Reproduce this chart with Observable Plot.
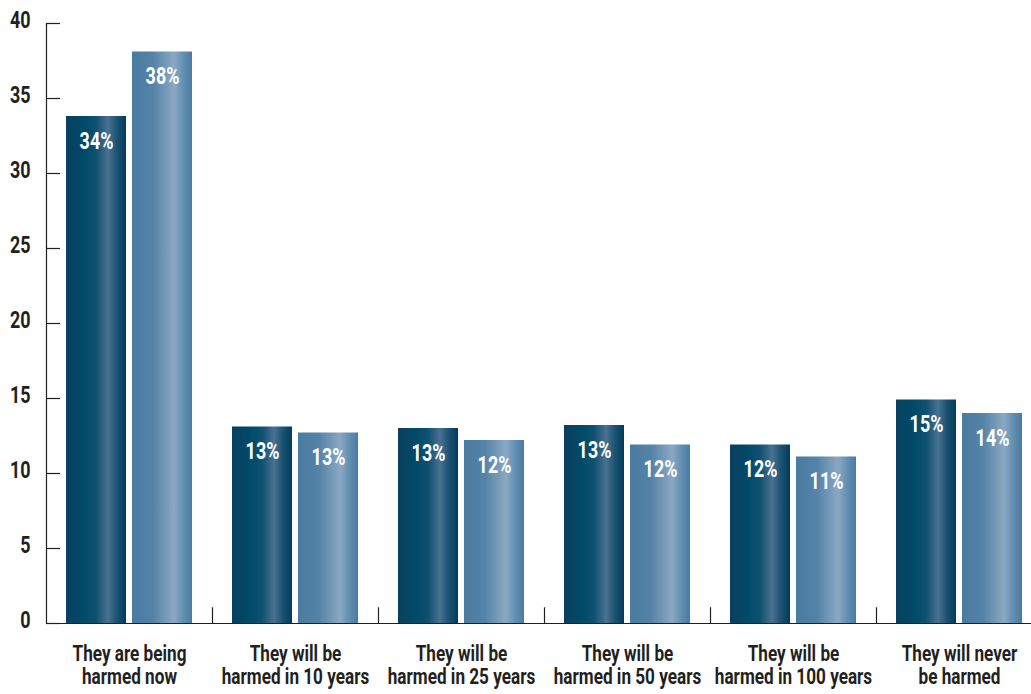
<!DOCTYPE html>
<html>
<head>
<meta charset="utf-8">
<script src="https://cdn.jsdelivr.net/npm/d3@7"></script>
<script src="https://cdn.jsdelivr.net/npm/@observablehq/plot@0.6"></script>
<style>
  html, body { margin: 0; padding: 0; background: #fff; }
  #chart svg { display: block; }
</style>
</head>
<body>
<div id="chart"></div>
<script>
const categories = [
  "They are being\nharmed now",
  "They will be\nharmed in 10 years",
  "They will be\nharmed in 25 years",
  "They will be\nharmed in 50 years",
  "They will be\nharmed in 100 years",
  "They will never\nbe harmed"
];
const darkValues = [33.8, 13.1, 13.0, 13.2, 11.9, 14.9];
const lightValues = [38.1, 12.7, 12.2, 11.9, 11.1, 14.0];
const darkLabels = ["34%", "13%", "13%", "13%", "12%", "15%"];
const lightLabels = ["38%", "13%", "12%", "12%", "11%", "14%"];
const yTicks = [0, 5, 10, 15, 20, 25, 30, 35, 40];

const rows = categories.map((c, i) => ({
  cat: c, dark: darkValues[i], light: lightValues[i],
  darkLabel: darkLabels[i], lightLabel: lightLabels[i]
}));

const FONT = 'Roboto, "Liberation Sans", sans-serif';
const INK = "#231f20";

const chart = Plot.plot({
  width: 1031,
  height: 694,
  marginLeft: 46,
  marginRight: 0,
  marginTop: 23,
  marginBottom: 71,
  style: { fontFamily: FONT, color: INK, background: "#fff" },
  x: { type: "band", domain: categories, range: [46, 1042], padding: 0 },
  y: { domain: [0, 40] },
  marks: [
    Plot.barY(rows, { x: "cat", y: "dark", fill: "url(#gDark)", insetLeft: 20, insetRight: 86 }),
    Plot.barY(rows, { x: "cat", y: "light", fill: "url(#gLight)", insetLeft: 86, insetRight: 20 }),
    Plot.text(rows, { x: "cat", y: "dark", text: "darkLabel", dx: -33, dy: 25, fill: "white", fontSize: 23, fontWeight: "bold" }),
    Plot.text(rows, { x: "cat", y: "light", text: "lightLabel", dx: 33, dy: 25, fill: "white", fontSize: 23, fontWeight: "bold" }),
    Plot.frame({ anchor: "left", stroke: INK, strokeWidth: 1.2 }),
    Plot.ruleY([0], { stroke: INK, strokeWidth: 1.2 }),
    Plot.ruleX(categories.slice(1), { x: d => d, dx: -83, y1: 0, y2: 1.05, stroke: INK, strokeWidth: 1.2 }),
    Plot.axisY(yTicks, { anchor: "left", tickSize: 14, dx: 14, tickFormat: () => "", stroke: INK, strokeWidth: 1.2 }),
    Plot.axisY(yTicks, { anchor: "left", tickSize: 0, tickPadding: 16, dy: -3, fontSize: 23, fontWeight: "bold", fill: INK }),
    Plot.axisX({ anchor: "bottom", tickSize: 0, tickPadding: 21, fontSize: 22, fontWeight: "bold", lineHeight: 1.05, fill: INK, label: null })
  ]
});

const svg = d3.select(chart);
const defs = svg.insert("defs", ":first-child");
const gd = defs.append("linearGradient").attr("id", "gDark").attr("x1", 0).attr("x2", 1).attr("y1", 0).attr("y2", 0);
[[0, "#0a3f5e"], [0.3, "#004a69"], [0.5, "#0f5070"], [0.7, "#4a7191"], [0.85, "#1a5272"], [1, "#003d5a"]]
  .forEach(([o, c]) => gd.append("stop").attr("offset", o).attr("stop-color", c));
const gl = defs.append("linearGradient").attr("id", "gLight").attr("x1", 0).attr("x2", 1).attr("y1", 0).attr("y2", 0);
[[0, "#4a7ba0"], [0.35, "#5483a8"], [0.7, "#8ba8c2"], [0.85, "#6390b2"], [1, "#4a7ba0"]]
  .forEach(([o, c]) => gl.append("stop").attr("offset", o).attr("stop-color", c));

document.getElementById("chart").appendChild(chart);

// Emulate the condensed typeface: squeeze every text horizontally about its anchor.
const SQUEEZE = 0.78;
svg.selectAll("text").each(function () {
  const t = this.getAttribute("transform");
  if (t && /translate\(/.test(t)) {
    this.setAttribute("transform", t + ` scale(${SQUEEZE},1)`);
  } else {
    const tspans = this.querySelectorAll("tspan");
    const runs = tspans.length ? Array.from(tspans) : [this];
    runs.forEach(r => {
      const w = r.getComputedTextLength();
      if (w > 0) {
        r.setAttribute("textLength", (w * SQUEEZE).toFixed(1));
        r.setAttribute("lengthAdjust", "spacingAndGlyphs");
      }
    });
  }
});
</script>
</body>
</html>
